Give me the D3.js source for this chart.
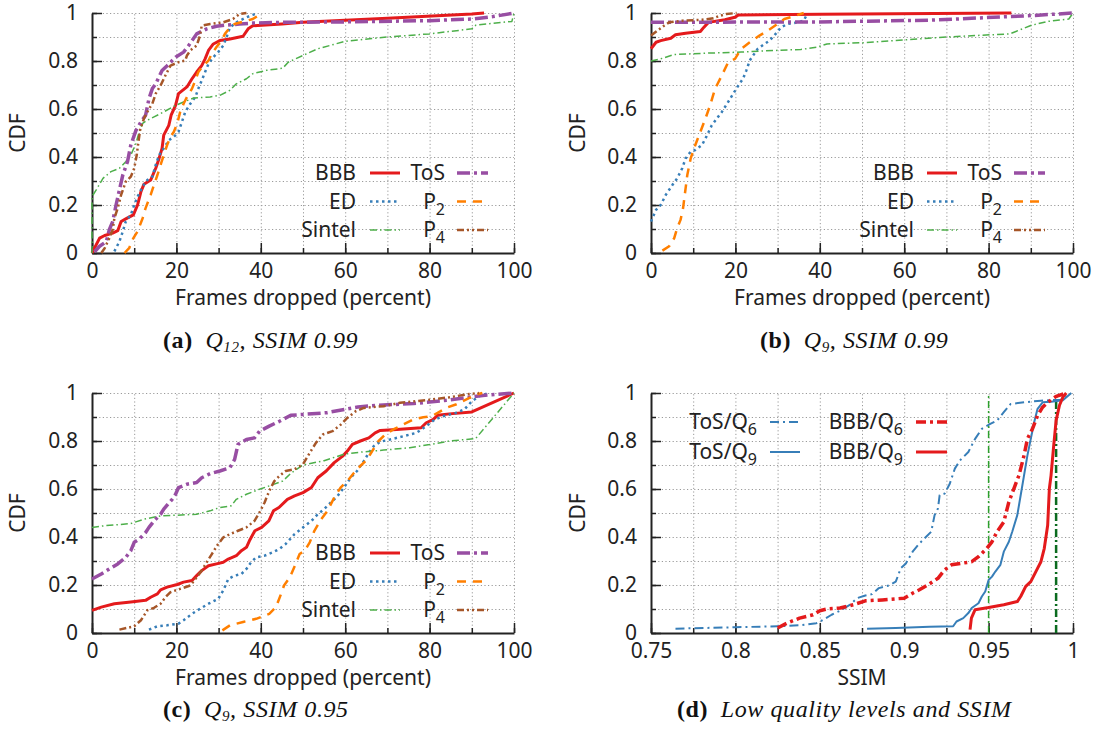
<!DOCTYPE html>
<html>
<head>
<meta charset="utf-8">
<script src="https://cdn.jsdelivr.net/npm/d3@7"></script>
<style>
body { margin: 0; background: #fff; }
text { font-family: "Noto Sans", sans-serif; fill: #222; }
.axis text { font-size: 21px; fill: #222; }
.legend text { font-size: 21px; }
.title { font-size: 21px; }
.caption { font-family: "Liberation Serif", serif; font-size: 24px; letter-spacing: 0.6px; fill: #111; }
</style>
</head>
<body>
<script>
// ---- data: [x, CDF] pairs ----
var seriesNames = ["BBB", "ED", "Sintel", "ToS", "P_2", "P_4"];
var dSeriesNames = ["ToS/Q_6", "ToS/Q_9", "BBB/Q_6", "BBB/Q_9"];

var xTickLabels = ["0", "20", "40", "60", "80", "100"];
var ssimTickLabels = ["0.75", "0.8", "0.85", "0.9", "0.95", "1"];
var yTickLabels = ["0", "0.2", "0.4", "0.6", "0.8", "1"];
var ssimThresholds = [0.95, 0.99];

// (a) Q12, SSIM 0.99
var aBBB = [[0,0],[1.8,0.062],[3,0.073],[4.9,0.083],[6.1,0.093],[6.9,0.131],[8,0.142],[9.8,0.159],[10.8,0.2],[11.6,0.256],[12.3,0.286],[13.9,0.304],[15.1,0.353],[15.9,0.394],[16.6,0.436],[17,0.491],[18.2,0.532],[18.75,0.574],[19.8,0.615],[20.5,0.664],[22.5,0.692],[23.7,0.726],[24.8,0.754],[26,0.781],[26.8,0.809],[27.6,0.844],[28.75,0.871],[30.3,0.885],[32.7,0.892],[35.8,0.903],[37,0.934],[38.1,0.947],[45,0.954],[50,0.961],[70,0.978],[90,0.996],[92.9,1]];
var aED = [[5.3,0.007],[6.5,0.048],[7.3,0.09],[8,0.131],[9.2,0.159],[10,0.2],[10.8,0.235],[12,0.277],[13.1,0.304],[14.3,0.318],[15.1,0.367],[15.9,0.408],[17,0.436],[18.2,0.47],[19.4,0.484],[20.5,0.505],[21.3,0.546],[22.1,0.588],[23.3,0.622],[24.5,0.65],[25.2,0.685],[26,0.719],[26.8,0.754],[27.6,0.788],[28.75,0.816],[29.9,0.837],[31.1,0.864],[31.9,0.9],[32.7,0.94],[34.2,0.961],[36.6,0.982],[38.1,0.992],[39.3,1]];
var aSintel = [[0,0],[0,0.235],[1,0.263],[2.6,0.311],[4.5,0.339],[6.5,0.353],[8,0.38],[9.2,0.408],[10.4,0.456],[11.2,0.505],[12,0.54],[13.1,0.553],[14.7,0.567],[17,0.588],[19.8,0.615],[21.7,0.629],[24.1,0.646],[28,0.65],[30.3,0.657],[32.7,0.678],[34.2,0.705],[36.6,0.726],[38.1,0.747],[41.3,0.761],[45.2,0.77],[46.5,0.795],[50,0.823],[53.5,0.851],[60,0.882],[70,0.9],[80,0.913],[90,0.934],[91,0.95],[99.5,0.965],[100,1]];
var aToS = [[0.6,0.005],[1.8,0.028],[3.4,0.048],[4.1,0.097],[4.9,0.131],[5.7,0.2],[6.5,0.263],[7.3,0.325],[8.4,0.38],[9.2,0.45],[10.4,0.51],[11.6,0.546],[12.7,0.574],[13.5,0.643],[14.3,0.685],[15.1,0.705],[16.6,0.76],[17.8,0.78],[19.8,0.816],[21.7,0.837],[22.9,0.864],[23.7,0.885],[24.8,0.913],[27.2,0.934],[29.5,0.945],[31.9,0.95],[35,0.954],[38.1,0.958],[45,0.961],[60,0.963],[80,0.968],[90,0.975],[95,0.985],[100,1]];
var aP2 = [[7.7,0],[8.8,0.02],[9.8,0.062],[10.8,0.09],[12,0.145],[12.7,0.187],[13.9,0.242],[14.7,0.284],[15.5,0.325],[16.25,0.367],[17,0.408],[17.8,0.45],[18.6,0.484],[19.4,0.505],[20.2,0.54],[20.9,0.588],[21.7,0.622],[22.5,0.65],[23.7,0.685],[24.5,0.72],[25.2,0.754],[26.4,0.781],[27.6,0.802],[28.4,0.83],[29.5,0.858],[30.7,0.885],[31.5,0.913],[32.7,0.94],[33.8,0.954],[35.8,0.964],[38.1,0.975],[39.7,0.992],[40.5,1]];
var aP4 = [[2.2,0],[3,0.02],[4.1,0.062],[4.9,0.097],[5.3,0.145],[6.1,0.187],[6.9,0.242],[8,0.297],[9.2,0.318],[10,0.353],[10.6,0.408],[11,0.463],[11.4,0.512],[12.3,0.56],[13.5,0.6],[14.3,0.622],[15.1,0.664],[16.25,0.698],[17.4,0.74],[18.6,0.781],[20.5,0.795],[22.1,0.802],[22.5,0.823],[23.3,0.844],[24.8,0.864],[25.6,0.906],[26,0.947],[28,0.954],[31.1,0.961],[33.4,0.975],[35,0.996],[36.6,1]];

// (b) Q9, SSIM 0.99
var bBBB = [[0,0.851],[1.2,0.878],[2.3,0.885],[4.7,0.895],[5.8,0.909],[8.2,0.916],[11.7,0.923],[12.5,0.94],[13.6,0.961],[17.5,0.972],[19.9,0.982],[20.7,0.992],[40,0.995],[85.4,1]];
var bED = [[0,0.131],[1.2,0.18],[2.3,0.2],[3.5,0.242],[5.1,0.284],[6.2,0.311],[7.4,0.353],[8.2,0.394],[9.4,0.422],[10.5,0.429],[12.1,0.45],[13.3,0.491],[14.4,0.532],[15.6,0.56],[16.8,0.588],[18.3,0.63],[19.5,0.664],[20.7,0.698],[21.8,0.726],[22.6,0.761],[23.4,0.802],[24.2,0.823],[25.3,0.851],[26.9,0.871],[28.1,0.885],[29.2,0.906],[30.8,0.94],[32.3,0.954],[34.7,0.961],[36.2,0.968],[37,0.996]];
var bSintel = [[0,0.8],[2.3,0.809],[5.5,0.827],[9.7,0.83],[13.6,0.833],[21.4,0.837],[29.2,0.844],[35.5,0.848],[39.4,0.858],[41.7,0.871],[50,0.876],[60,0.888],[70,0.9],[85,0.913],[90,0.948],[94,0.965],[99,0.975],[100,1]];
var bToS = [[0,0.961],[20,0.962],[40,0.963],[66,0.97],[85,0.985],[91,0.99],[100,1]];
var bP2 = [[2.7,0.01],[4.3,0.028],[5.5,0.062],[6.2,0.104],[7,0.138],[7.6,0.187],[8,0.242],[8.6,0.325],[9.4,0.394],[10.5,0.45],[11.7,0.505],[12.9,0.56],[14,0.615],[15.2,0.685],[16.8,0.74],[18.3,0.795],[19.9,0.809],[21.4,0.851],[23.4,0.878],[25.7,0.906],[27.7,0.927],[29.6,0.95],[31.6,0.975],[34.3,0.989],[36.2,1]];
var bP4 = [[0,0.906],[1.6,0.927],[3.1,0.947],[4.3,0.961],[7.4,0.968],[12.1,0.972],[14.8,0.978],[16.4,0.989],[17.9,0.996],[20.3,1]];

// (c) Q9, SSIM 0.95
var cBBB = [[0,0.094],[2.2,0.108],[5.3,0.122],[9.2,0.129],[12.7,0.136],[13.9,0.149],[15.5,0.163],[16.25,0.18],[17.8,0.191],[20.2,0.202],[21.7,0.212],[23.7,0.219],[24.8,0.239],[26,0.26],[27.6,0.28],[29.5,0.288],[31.1,0.295],[32.3,0.308],[34.2,0.322],[35.4,0.343],[36.6,0.357],[37.3,0.384],[38.6,0.426],[40.2,0.44],[41.9,0.467],[43,0.509],[44.3,0.523],[46.3,0.557],[48,0.571],[50,0.585],[52,0.606],[53.5,0.647],[55.5,0.675],[57.4,0.71],[59.4,0.737],[60.5,0.758],[61.7,0.786],[63.6,0.8],[65.6,0.813],[67.1,0.834],[68.3,0.844],[72.2,0.848],[78,0.855],[79.2,0.876],[80.8,0.889],[81.9,0.907],[84.7,0.913],[90,0.921],[100,1]];
var cED = [[13.5,0.014],[15.5,0.028],[17.8,0.032],[20.5,0.039],[21.7,0.053],[23.7,0.08],[25.6,0.101],[27.6,0.122],[29.9,0.142],[31.1,0.177],[32.3,0.225],[33.8,0.239],[35.4,0.246],[36.6,0.267],[37.7,0.295],[38.9,0.315],[40.9,0.322],[42.8,0.336],[44.4,0.35],[45.9,0.371],[48,0.412],[50,0.44],[52,0.467],[53.5,0.495],[55,0.516],[56.6,0.544],[58.2,0.571],[59.7,0.606],[61.3,0.647],[62.8,0.675],[64.4,0.716],[65.6,0.751],[66.8,0.779],[68.3,0.797],[70.6,0.806],[73.8,0.82],[76.9,0.834],[79.2,0.862],[81.2,0.889],[83.1,0.903],[86.2,0.917],[88.2,0.931],[90,0.965],[91.7,0.986],[94,1]];
var cSintel = [[0,0.44],[3,0.447],[6.1,0.451],[9.2,0.456],[12.3,0.474],[16.25,0.488],[20.2,0.491],[24.8,0.495],[28,0.509],[30.3,0.523],[33,0.53],[34.2,0.557],[36.6,0.578],[39.7,0.599],[42,0.613],[45.2,0.633],[47.1,0.665],[50,0.7],[55,0.718],[59.7,0.745],[64.4,0.755],[69.1,0.762],[75.3,0.772],[80,0.785],[84.7,0.8],[90.9,0.81],[100,1]];
var cToS = [[0,0.225],[2.2,0.246],[4.1,0.267],[6.1,0.288],[8,0.315],[9.2,0.343],[10,0.378],[11.2,0.391],[12.7,0.419],[13.5,0.44],[14.7,0.467],[16.25,0.495],[17,0.516],[18,0.537],[19,0.557],[19.8,0.578],[20.5,0.606],[22.5,0.62],[24.8,0.627],[26,0.647],[28,0.664],[30.3,0.675],[32.7,0.689],[33.8,0.723],[34.6,0.786],[36.6,0.806],[38.5,0.813],[39.7,0.841],[42,0.862],[44.4,0.882],[47.1,0.907],[55.7,0.918],[63,0.942],[68,0.949],[76.2,0.956],[84.4,0.97],[92.6,0.99],[100,1]];
var cP2 = [[30.9,0.011],[32.7,0.032],[35.8,0.046],[38.9,0.059],[42,0.08],[43.6,0.108],[44.8,0.163],[45.5,0.198],[46.9,0.232],[48.1,0.281],[49.2,0.329],[50.4,0.343],[51.6,0.378],[52.7,0.426],[54.3,0.474],[55.8,0.509],[57.4,0.564],[58.9,0.606],[60.5,0.633],[62.1,0.668],[63.6,0.696],[65.2,0.723],[66.4,0.758],[67.9,0.8],[69.5,0.827],[71.4,0.848],[73.8,0.869],[76.1,0.889],[78.5,0.899],[80.4,0.903],[81.9,0.917],[83.9,0.938],[86.2,0.952],[88.6,0.972],[90.9,0.993],[92.5,1]];
var cP4 = [[6.5,0.014],[10,0.028],[11.6,0.053],[13.1,0.094],[14.7,0.105],[16.25,0.122],[17.4,0.149],[18.6,0.17],[20.9,0.184],[23.3,0.198],[24.8,0.232],[26,0.26],[27.2,0.295],[28.4,0.329],[29.9,0.371],[31.1,0.398],[32.7,0.412],[34.6,0.426],[36.6,0.44],[38.5,0.467],[39.7,0.502],[40.9,0.544],[42,0.592],[43.2,0.633],[44.4,0.654],[45.9,0.675],[48,0.682],[50,0.703],[51.6,0.751],[53.1,0.793],[54.7,0.827],[57,0.841],[59,0.869],[60.5,0.896],[62.5,0.924],[64.4,0.938],[69.1,0.945],[73,0.959],[80,0.972],[84.7,0.982],[89.4,0.996],[91.7,1]];

// (d) SSIM of low quality levels
var dToSQ6 = [[0.7645,0.018],[0.8,0.024],[0.825,0.028],[0.838,0.032],[0.848,0.041],[0.852,0.055],[0.857,0.076],[0.862,0.093],[0.868,0.118],[0.872,0.145],[0.877,0.156],[0.881,0.162],[0.885,0.187],[0.891,0.198],[0.895,0.214],[0.898,0.27],[0.901,0.29],[0.905,0.339],[0.909,0.373],[0.913,0.401],[0.916,0.422],[0.918,0.491],[0.92,0.519],[0.921,0.574],[0.924,0.581],[0.927,0.622],[0.93,0.685],[0.933,0.719],[0.938,0.754],[0.942,0.809],[0.946,0.851],[0.951,0.871],[0.955,0.885],[0.959,0.92],[0.963,0.954],[0.971,0.961],[0.981,0.968],[0.993,0.972],[0.997,1]];
var dToSQ9 = [[0.878,0.018],[0.895,0.021],[0.915,0.026],[0.929,0.028],[0.931,0.048],[0.935,0.062],[0.938,0.083],[0.94,0.104],[0.944,0.124],[0.946,0.152],[0.948,0.173],[0.95,0.221],[0.952,0.235],[0.954,0.256],[0.957,0.284],[0.959,0.339],[0.962,0.38],[0.964,0.422],[0.967,0.491],[0.969,0.574],[0.971,0.657],[0.973,0.74],[0.975,0.809],[0.977,0.878],[0.979,0.934],[0.982,0.961],[0.987,0.964],[0.994,0.97],[0.999,1]];
var dBBBQ6 = [[0.825,0.021],[0.8305,0.041],[0.838,0.062],[0.846,0.076],[0.85,0.093],[0.855,0.101],[0.862,0.104],[0.87,0.118],[0.877,0.134],[0.887,0.138],[0.9,0.145],[0.905,0.166],[0.909,0.18],[0.914,0.2],[0.92,0.228],[0.924,0.263],[0.928,0.284],[0.94,0.297],[0.944,0.318],[0.949,0.353],[0.952,0.38],[0.955,0.422],[0.959,0.463],[0.962,0.546],[0.965,0.602],[0.968,0.657],[0.971,0.74],[0.973,0.809],[0.976,0.851],[0.979,0.906],[0.982,0.941],[0.985,0.961],[0.99,0.986],[0.996,1]];
var dBBBQ9 = [[0.939,0.014],[0.9398,0.062],[0.942,0.097],[0.95,0.106],[0.959,0.118],[0.967,0.131],[0.969,0.152],[0.972,0.194],[0.975,0.214],[0.978,0.256],[0.981,0.297],[0.983,0.353],[0.985,0.449],[0.986,0.602],[0.987,0.657],[0.9885,0.776],[0.99,0.886],[0.992,0.949],[0.994,0.983],[0.996,1]];

// ---- styles (gnuplot-like) ----
var styles = {
    "BBB":     {color: "#e41a1c", width: 3,   dash: null},
    "ED":      {color: "#377eb8", width: 2.5, dash: "2.5,3.5"},
    "Sintel":  {color: "#4daf4a", width: 1.5, dash: "7,3,1.5,3"},
    "ToS":     {color: "#984ea3", width: 3.5, dash: "13,4,3,4"},
    "P_2":     {color: "#ff7f00", width: 2.5, dash: "9,7"},
    "P_4":     {color: "#a65628", width: 2.5, dash: "7,3,2,3,2,3"},
    "ToS/Q_6": {color: "#377eb8", width: 2,   dash: "9,4,2,4"},
    "ToS/Q_9": {color: "#377eb8", width: 2,   dash: null},
    "BBB/Q_6": {color: "#e41a1c", width: 3.5, dash: "10,4,3,4"},
    "BBB/Q_9": {color: "#e41a1c", width: 3,   dash: null}
};

var W = 1103, H = 738;

var svg = d3.select("body")
    .append("svg")
    .attr("width", W)
    .attr("height", H);

//draws one panel: grid, axes, curves, legend
function drawPanel(p) {
    var x = d3.scaleLinear().domain(p.xDomain).range([p.left, p.right]);
    var y = d3.scaleLinear().domain([0, 1]).range([p.bottom, p.top]);
    var g = svg.append("g").attr("class", "panel");

    var nx = Math.round((p.xDomain[1] - p.xDomain[0]) / p.xMinor);
    var xMinorVals = d3.range(nx + 1).map(function(i){ return p.xDomain[0] + i * p.xMinor; });
    var xMajorVals = xMinorVals.filter(function(d, i){ return i % 2 === 0; });
    var yMinorVals = d3.range(11).map(function(i){ return i / 10; });
    var yMajorVals = yMinorVals.filter(function(d, i){ return i % 2 === 0; });

    //dotted grid
    g.append("g")
        .attr("class", "grid")
        .attr("transform", "translate(0," + p.bottom + ")")
        .call(d3.axisBottom(x).tickValues(xMinorVals.slice(1)).tickSize(-(p.bottom - p.top)).tickFormat(""));
    g.append("g")
        .attr("class", "grid")
        .attr("transform", "translate(" + p.left + ",0)")
        .call(d3.axisLeft(y).tickValues(yMinorVals.slice(1)).tickSize(-(p.right - p.left)).tickFormat(""));
    g.selectAll(".grid path").remove();
    g.selectAll(".grid line")
        .style("stroke", "#9a9a9a")
        .style("stroke-width", 1)
        .style("stroke-dasharray", "1.2,2.4");

    //minor ticks (inward)
    g.append("g")
        .attr("class", "minor")
        .attr("transform", "translate(0," + p.bottom + ")")
        .call(d3.axisBottom(x).tickValues(xMinorVals).tickSize(-5).tickFormat(""));
    g.append("g")
        .attr("class", "minor")
        .attr("transform", "translate(" + p.left + ",0)")
        .call(d3.axisLeft(y).tickValues(yMinorVals).tickSize(-5).tickFormat(""));
    g.selectAll(".minor path").remove();

    //major ticks + labels
    var xAxis = g.append("g")
        .attr("class", "axis")
        .attr("transform", "translate(0," + p.bottom + ")")
        .call(d3.axisBottom(x)
            .tickValues(xMajorVals)
            .tickSize(-10)
            .tickSizeOuter(0)
            .tickFormat(function(d, i){ return p.xLabels[i]; }));
    var yAxis = g.append("g")
        .attr("class", "axis")
        .attr("transform", "translate(" + p.left + ",0)")
        .call(d3.axisLeft(y)
            .tickValues(yMajorVals)
            .tickSize(-10)
            .tickSizeOuter(0)
            .tickPadding(14)
            .tickFormat(function(d, i){ return yTickLabels[i]; }));
    g.selectAll(".minor line, .axis line").style("stroke", "#222").style("stroke-width", 1.5);
    g.selectAll(".axis path").style("stroke", "#222").style("stroke-width", 2);
    g.selectAll(".axis text").style("font-family", "'Noto Sans', sans-serif");
    xAxis.selectAll("text").attr("y", 25).attr("dy", 0);

    //threshold lines (panel d only)
    if (p.vlines) {
        p.vlines.forEach(function(v, i){
            g.append("line")
                .attr("x1", x(v)).attr("x2", x(v))
                .attr("y1", y(0)).attr("y2", y(1))
                .style("stroke", i === 0 ? "#2ca02c" : "#0b6b1f")
                .style("stroke-width", i === 0 ? 1.5 : 2.5)
                .style("stroke-dasharray", i === 0 ? "7,3,2,3" : "8,3,2,3");
        });
    }

    //curves
    var line = d3.line()
        .x(function(d){ return x(d[0]); })
        .y(function(d){ return y(d[1]); });

    p.series.forEach(function(s){
        var st = styles[s.name];
        g.append("path")
            .datum(s.values)
            .attr("d", line)
            .style("fill", "none")
            .style("stroke", st.color)
            .style("stroke-width", st.width)
            .style("stroke-linejoin", "round")
            .style("stroke-dasharray", st.dash);
    });

    //axis titles
    g.append("text")
        .attr("class", "title")
        .attr("transform", "translate(" + p.yTitleX + "," + ((p.top + p.bottom) / 2) + ") rotate(-90)")
        .attr("text-anchor", "middle")
        .attr("dy", "0.35em")
        .text("CDF");
    g.append("text")
        .attr("class", "title")
        .attr("x", (p.left + p.right) / 2)
        .attr("y", p.bottom + 52)
        .attr("text-anchor", "middle")
        .text(p.xTitle);

    //legend: columns of names, right aligned text + sample line
    var leg = g.append("g").attr("class", "legend");
    p.legend.forEach(function(col){
        col.names.forEach(function(name, i){
            var st = styles[name];
            var ry = p.legendTop + i * p.legendStep;
            var parts = name.split("_");
            var t = leg.append("text")
                .attr("x", col.textRight)
                .attr("y", ry + 7)
                .attr("text-anchor", "end");
            t.append("tspan").text(parts[0]);
            if (parts.length > 1) {
                t.append("tspan")
                    .attr("dy", 6)
                    .style("font-size", "16px")
                    .text(parts[1]);
            }
            leg.append("line")
                .attr("x1", col.lineX[0]).attr("x2", col.lineX[1])
                .attr("y1", ry).attr("y2", ry)
                .style("stroke", st.color)
                .style("stroke-width", st.width)
                .style("stroke-dasharray", st.dash);
        });
    });
}

function pair(names, arrays){
    return names.map(function(n, i){ return {name: n, values: arrays[i]}; });
}

var frameLegendA = [
    {names: seriesNames.slice(0, 3), textRight: 356, lineX: [370, 400]},
    {names: seriesNames.slice(3), textRight: 445, lineX: [457, 488]}
];
var frameLegendB = [
    {names: seriesNames.slice(0, 3), textRight: 914, lineX: [927, 957]},
    {names: seriesNames.slice(3), textRight: 1002, lineX: [1014, 1045]}
];

drawPanel({
    left: 92, right: 514, top: 13, bottom: 253,
    xDomain: [0, 100], xMinor: 10, xLabels: xTickLabels,
    xTitle: "Frames dropped (percent)", yTitleX: 18,
    series: pair(seriesNames, [aBBB, aED, aSintel, aToS, aP2, aP4]),
    legend: frameLegendA, legendTop: 173, legendStep: 28.5
});
drawPanel({
    left: 651, right: 1073, top: 13, bottom: 253,
    xDomain: [0, 100], xMinor: 10, xLabels: xTickLabels,
    xTitle: "Frames dropped (percent)", yTitleX: 578,
    series: pair(seriesNames, [bBBB, bED, bSintel, bToS, bP2, bP4]),
    legend: frameLegendB, legendTop: 173, legendStep: 28.5
});
drawPanel({
    left: 92, right: 514, top: 393, bottom: 633,
    xDomain: [0, 100], xMinor: 10, xLabels: xTickLabels,
    xTitle: "Frames dropped (percent)", yTitleX: 18,
    series: pair(seriesNames, [cBBB, cED, cSintel, cToS, cP2, cP4]),
    legend: frameLegendA, legendTop: 553, legendStep: 28.5
});
drawPanel({
    left: 651, right: 1073, top: 393, bottom: 633,
    xDomain: [0.75, 1], xMinor: 0.025, xLabels: ssimTickLabels,
    xTitle: "SSIM", yTitleX: 578,
    vlines: ssimThresholds,
    series: pair(dSeriesNames, [dToSQ6, dToSQ9, dBBBQ6, dBBBQ9]),
    legend: [
        {names: dSeriesNames.slice(0, 2), textRight: 757, lineX: [770, 800]},
        {names: dSeriesNames.slice(2), textRight: 903, lineX: [916, 947]}
    ],
    legendTop: 422, legendStep: 30
});

//sub-figure captions
var captions = [
    {x: 163, y: 348, tag: "(a)", q: "Q", sub: "12", rest: ", SSIM 0.99"},
    {x: 760, y: 348, tag: "(b)", q: "Q", sub: "9", rest: ", SSIM 0.99"},
    {x: 163, y: 717, tag: "(c)", q: "Q", sub: "9", rest: ", SSIM 0.95"},
    {x: 677, y: 717, tag: "(d)", q: "", sub: "", rest: "Low quality levels and SSIM"}
];
captions.forEach(function(c){
    var t = svg.append("text")
        .attr("class", "caption")
        .attr("x", c.x)
        .attr("y", c.y);
    t.append("tspan").style("font-weight", "bold").text(c.tag + "\u2002");
    t.append("tspan").style("font-style", "italic").text(c.q);
    if (c.sub) {
        t.append("tspan").style("font-style", "italic").style("font-size", "15px").attr("dy", 4).text(c.sub);
        t.append("tspan").style("font-style", "italic").attr("dy", -4).text(c.rest);
    } else {
        t.append("tspan").style("font-style", "italic").text(c.rest);
    }
});
</script>
</body>
</html>
